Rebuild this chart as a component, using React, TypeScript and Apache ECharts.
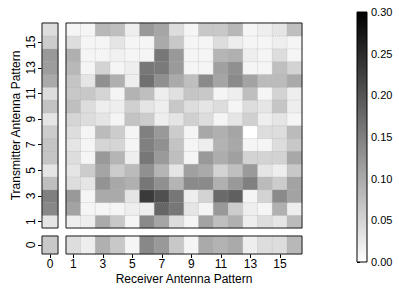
import React, { useEffect, useRef } from "react";
import * as echarts from "echarts";

const receivers = ["1","2","3","4","5","6","7","8","9","10","11","12","13","14","15","16"];
const transmitters = ["1","2","3","4","5","6","7","8","9","10","11","12","13","14","15","16"];
const zeroLabel = ["0"];

// Main matrix: one array per transmitter pattern (1..16), values for receivers 1..16
const tx1 = [0.020,0.020,0.100,0.065,0.012,0.138,0.106,0.040,0.012,0.108,0.075,0.093,0.020,0.040,0.031,0.080];
const tx2 = [0.108,0.012,0.012,0.012,0.020,0.020,0.180,0.160,0.031,0.012,0.120,0.060,0.020,0.012,0.093,0.020];
const tx3 = [0.120,0.012,0.100,0.100,0.031,0.232,0.206,0.160,0.020,0.052,0.175,0.187,0.012,0.052,0.138,0.108];
const tx4 = [0.040,0.031,0.127,0.102,0.093,0.160,0.131,0.087,0.138,0.138,0.093,0.120,0.149,0.080,0.060,0.108];
const tx5 = [0.031,0.060,0.106,0.060,0.080,0.131,0.087,0.031,0.112,0.100,0.052,0.075,0.119,0.031,0.020,0.065];
const tx6 = [0.040,0.012,0.120,0.087,0.020,0.160,0.119,0.075,0.012,0.120,0.096,0.112,0.052,0.052,0.052,0.102];
const tx7 = [0.031,0.012,0.049,0.049,0.012,0.149,0.131,0.071,0.012,0.020,0.089,0.102,0.012,0.012,0.040,0.065];
const tx8 = [0.040,0.012,0.080,0.060,0.012,0.149,0.120,0.060,0.012,0.102,0.093,0.106,0.000,0.040,0.040,0.080];
const tx9 = [0.049,0.040,0.031,0.012,0.071,0.060,0.020,0.031,0.055,0.040,0.012,0.031,0.055,0.020,0.031,0.012];
const tx10 = [0.075,0.040,0.020,0.020,0.055,0.031,0.020,0.065,0.040,0.031,0.040,0.012,0.040,0.031,0.068,0.020];
const tx11 = [0.065,0.065,0.049,0.012,0.089,0.075,0.020,0.036,0.068,0.065,0.012,0.020,0.075,0.012,0.052,0.020];
const tx12 = [0.068,0.031,0.131,0.093,0.020,0.168,0.131,0.100,0.075,0.138,0.106,0.138,0.108,0.080,0.080,0.100];
const tx13 = [0.084,0.012,0.052,0.012,0.020,0.160,0.156,0.119,0.012,0.012,0.112,0.131,0.012,0.012,0.075,0.052];
const tx14 = [0.093,0.012,0.012,0.016,0.012,0.012,0.160,0.120,0.012,0.012,0.087,0.093,0.020,0.012,0.040,0.012];
const tx15 = [0.040,0.012,0.012,0.031,0.012,0.012,0.100,0.065,0.012,0.012,0.040,0.020,0.012,0.012,0.020,0.012];
const tx16 = [0.012,0.012,0.084,0.075,0.020,0.120,0.106,0.040,0.012,0.065,0.065,0.084,0.012,0.020,0.031,0.075];
const mainRows = [tx1, tx2, tx3, tx4, tx5, tx6, tx7, tx8, tx9, tx10, tx11, tx12, tx13, tx14, tx15, tx16];

// Receiver pattern 0 (left strip), transmitters 1..16
const rx0Column = [0.031,0.140,0.149,0.075,0.031,0.068,0.068,0.060,0.031,0.071,0.040,0.100,0.115,0.120,0.060,0.040];
// Transmitter pattern 0 (bottom strip), receivers 1..16
const tx0Row = [0.040,0.020,0.093,0.065,0.012,0.140,0.120,0.065,0.012,0.100,0.089,0.100,0.020,0.040,0.040,0.084];
// Both patterns 0
const cornerValue = 0.065;

const colorMin = 0;
const colorMax = 0.3;
const colorStep = 0.05;

const FONT = "'Liberation Sans', Arial, Helvetica, sans-serif";

export default function App() {
  const ref = useRef<HTMLDivElement>(null);
  useEffect(() => {
    if (!ref.current) return;
    const chart = echarts.init(ref.current, null, { renderer: "svg" });

    const mainData: number[][] = [];
    mainRows.forEach((row, yi) => row.forEach((v, xi) => mainData.push([xi, yi, v])));
    const leftData = rx0Column.map((v, yi) => [0, yi, v]);
    const bottomData = tx0Row.map((v, xi) => [xi, 0, v]);
    const cornerData = [[0, 0, cornerValue]];

    const gridBase = { show: true, borderColor: "#222", borderWidth: 1, backgroundColor: "transparent", z: 10 };
    const hiddenAxis = {
      axisLine: { show: false },
      axisTick: { show: false },
      axisLabel: { show: false },
      splitLine: { show: false },
    };
    const tickStyle = { show: true, alignWithLabel: true, interval: 1, length: 4, lineStyle: { color: "#000", width: 1 } };
    const labelStyle = { color: "#000", fontSize: 12, fontFamily: FONT };
    const cellStyle = { borderColor: "rgba(175,175,175,0.45)", borderWidth: 1, borderType: "dotted" };

    const option: any = {
      animation: false,
      textStyle: { fontFamily: FONT },
      grid: [
        { ...gridBase, left: 66, top: 23, width: 236, height: 205 },
        { ...gridBase, left: 42, top: 23, width: 16, height: 205 },
        { ...gridBase, left: 66, top: 236, width: 236, height: 18 },
        { ...gridBase, left: 42, top: 236, width: 16, height: 18 },
        { show: false, left: 357, top: 12, width: 10, height: 250 },
      ],
      xAxis: [
        { type: "category", gridIndex: 0, data: receivers, ...hiddenAxis },
        { type: "category", gridIndex: 1, data: zeroLabel, ...hiddenAxis },
        {
          type: "category", gridIndex: 2, data: receivers,
          axisLine: { show: false }, splitLine: { show: false },
          axisTick: tickStyle,
          axisLabel: { ...labelStyle, interval: 1, margin: 4 },
          name: "Receiver Antenna Pattern", nameLocation: "middle", nameGap: 19,
          nameTextStyle: { ...labelStyle },
        },
        {
          type: "category", gridIndex: 3, data: zeroLabel,
          axisLine: { show: false }, splitLine: { show: false },
          axisTick: { ...tickStyle, interval: 0 },
          axisLabel: { ...labelStyle, interval: 0, margin: 4 },
        },
        { type: "value", gridIndex: 4, min: 0, max: 1, show: false },
      ],
      yAxis: [
        { type: "category", gridIndex: 0, data: transmitters, ...hiddenAxis },
        {
          type: "category", gridIndex: 1, data: transmitters,
          axisLine: { show: false }, splitLine: { show: false },
          axisTick: tickStyle,
          axisLabel: { ...labelStyle, interval: 1, rotate: 90, margin: 5 },
          name: "Transmitter Antenna Pattern", nameLocation: "middle", nameGap: 20, nameRotate: 90,
          nameTextStyle: { ...labelStyle },
        },
        { type: "category", gridIndex: 2, data: zeroLabel, ...hiddenAxis },
        {
          type: "category", gridIndex: 3, data: zeroLabel,
          axisLine: { show: false }, splitLine: { show: false },
          axisTick: { ...tickStyle, interval: 0 },
          axisLabel: { ...labelStyle, interval: 0, rotate: 90, margin: 5 },
        },
        {
          type: "value", gridIndex: 4, position: "right", min: colorMin, max: colorMax, interval: colorStep,
          axisLine: { show: false },
          axisTick: { show: true, length: 3, lineStyle: { color: "#000" } },
          axisLabel: { color: "#000", fontSize: 11, fontFamily: FONT, margin: 4, formatter: (v: number) => v.toFixed(2) },
          splitLine: { show: false },
        },
      ],
      visualMap: {
        type: "continuous", show: false, min: colorMin, max: colorMax,
        seriesIndex: [0, 1, 2, 3], dimension: 2,
        inRange: { color: ["#ffffff", "#000000"] },
      },
      graphic: [
        {
          type: "rect", z: 5,
          shape: { x: 357, y: 12, width: 10, height: 250 },
          style: {
            fill: new echarts.graphic.LinearGradient(0, 0, 0, 1, [
              { offset: 0, color: "#000000" },
              { offset: 1, color: "#ffffff" },
            ]),
            stroke: "#000", lineWidth: 1,
          },
        },
      ],
      series: [
        { type: "heatmap", xAxisIndex: 0, yAxisIndex: 0, data: mainData, itemStyle: cellStyle, emphasis: { disabled: true } },
        { type: "heatmap", xAxisIndex: 1, yAxisIndex: 1, data: leftData, itemStyle: cellStyle, emphasis: { disabled: true } },
        { type: "heatmap", xAxisIndex: 2, yAxisIndex: 2, data: bottomData, itemStyle: cellStyle, emphasis: { disabled: true } },
        { type: "heatmap", xAxisIndex: 3, yAxisIndex: 3, data: cornerData, itemStyle: cellStyle, emphasis: { disabled: true } },
      ],
    };
    chart.setOption(option);
    return () => chart.dispose();
  }, []);
  return (
    <div
      ref={ref}
      style={{ position: "absolute", left: 0, top: 0, width: 399, height: 288, background: "#fff" }}
    />
  );
}
